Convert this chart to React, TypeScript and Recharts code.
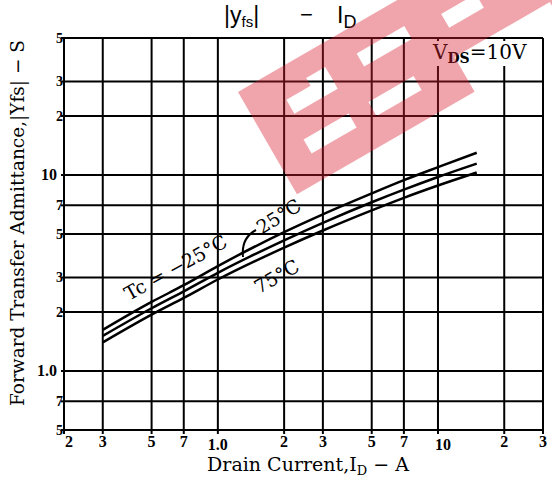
import { LineChart, Line, XAxis, YAxis, CartesianGrid } from 'recharts'

// Drain current I_D (A) where the curves were read
const drainCurrent = [0.3, 0.5, 0.7, 1.0, 2, 3, 5, 7, 10, 15]
// |Yfs| (S) per case temperature
const yfsMinus25 = [1.62, 2.25, 2.74, 3.43, 5.11, 6.3, 8.05, 9.41, 10.96, 12.98]
const yfs25 = [1.51, 2.09, 2.55, 3.17, 4.64, 5.7, 7.26, 8.42, 9.77, 11.43]
const yfs75 = [1.4, 1.94, 2.36, 2.93, 4.26, 5.21, 6.6, 7.65, 8.84, 10.3]

const xTicks = [0.2, 0.3, 0.5, 0.7, 1, 2, 3, 5, 7, 10, 20, 30]
const xTickLabels = ['2', '3', '5', '7', '1.0', '2', '3', '5', '7', '10', '2', '3']
const yTicks = [0.5, 0.7, 1, 2, 3, 5, 7, 10, 20, 30, 50]
const yTickLabels = ['5', '7', '1.0', '2', '3', '5', '7', '10', '2', '3', '5']

const data = drainCurrent.map((id, i) => ({
  id,
  tcMinus25: yfsMinus25[i],
  tc25: yfs25[i],
  tc75: yfs75[i],
}))

const SERIF = '"DejaVu Serif", "Liberation Serif", serif'
const TICK_FONT = '"Liberation Serif", serif'

interface TickProps {
  x?: number
  y?: number
  index?: number
}

function XTick({ x = 0, y = 0, index = 0 }: TickProps) {
  const label = xTickLabels[index]
  const wide = label.length > 1
  return (
    <text
      x={x + (label === '10' ? 5 : index === 0 ? 5 : 0)}
      y={y + (wide ? 14 : 11)}
      textAnchor="middle"
      fontFamily={TICK_FONT}
      fontWeight="bold"
      fontSize={16}
      fill="#000"
    >
      {label}
    </text>
  )
}

function YTick({ x = 0, y = 0, index = 0 }: TickProps) {
  const label = yTickLabels[index]
  const wide = label.length > 1
  return (
    <text
      x={wide ? x - 2 : x + 4}
      y={y + 5}
      textAnchor="end"
      fontFamily={TICK_FONT}
      fontWeight="bold"
      fontSize={wide ? 16 : 14}
      fill="#000"
    >
      {label}
    </text>
  )
}

// logo stamp laid over the scan (band rotated -30deg, with white gaps)
function Watermark() {
  const frame = 'translate(238 92) rotate(-30)'
  return (
    <svg
      width={552}
      height={483}
      style={{ position: 'absolute', left: 0, top: 0, pointerEvents: 'none' }}
    >
      <defs>
        <mask id="wm-holes" maskUnits="userSpaceOnUse" x={0} y={0} width={552} height={483}>
          <rect x={0} y={0} width={552} height={483} fill="#fff" />
          <g transform={frame} fill="#000">
            <rect x={38} y={31} width={50} height={16} />
            <rect x={66} y={22} width={22} height={20} />
            <rect x={33} y={74} width={52} height={16} />
            <rect x={122} y={26} width={55} height={15} />
            <rect x={108} y={74} width={52} height={16} />
            <rect x={215} y={34} width={40} height={16} />
            <rect x={205} y={78} width={110} height={50} />
          </g>
        </mask>
      </defs>
      <g mask="url(#wm-holes)">
        <rect
          x={0}
          y={0}
          width={460}
          height={118}
          transform={frame}
          fill="#d81e2c"
          opacity={0.4}
        />
      </g>
    </svg>
  )
}

export default function App() {
  return (
    <div
      style={{
        position: 'absolute',
        left: 0,
        top: 0,
        width: 552,
        height: 483,
        background: '#fff',
      }}
    >
      <LineChart
        width={552}
        height={483}
        data={data}
        margin={{ top: 38, right: 9, bottom: 23, left: 24 }}
      >
        <CartesianGrid stroke="#000" strokeWidth={2} />
        <XAxis
          dataKey="id"
          type="number"
          scale="log"
          domain={[0.2, 30]}
          ticks={xTicks}
          allowDataOverflow
          height={30}
          tick={<XTick />}
          tickLine={{ stroke: '#000', strokeWidth: 2 }}
          tickSize={4}
          axisLine={{ stroke: '#000', strokeWidth: 2 }}
          interval={0}
        />
        <YAxis
          type="number"
          scale="log"
          domain={[0.5, 50]}
          ticks={yTicks}
          allowDataOverflow
          width={40}
          tick={<YTick />}
          tickLine={{ stroke: '#000', strokeWidth: 2 }}
          tickSize={3}
          axisLine={{ stroke: '#000', strokeWidth: 2 }}
          interval={0}
        />
        <Line
          dataKey="tcMinus25"
          type="monotone"
          stroke="#000"
          strokeWidth={2.5}
          dot={false}
          isAnimationActive={false}
        />
        <Line
          dataKey="tc25"
          type="monotone"
          stroke="#000"
          strokeWidth={2.5}
          dot={false}
          isAnimationActive={false}
        />
        <Line
          dataKey="tc75"
          type="monotone"
          stroke="#000"
          strokeWidth={2.5}
          dot={false}
          isAnimationActive={false}
        />
      </LineChart>

      <svg
        width={552}
        height={483}
        style={{ position: 'absolute', left: 0, top: 0, pointerEvents: 'none' }}
      >
        {/* title */}
        <g fontFamily='"Liberation Sans", sans-serif' fill="#000">
          <text x={224} y={23} fontSize={23}>
            |y
            <tspan fontSize={15} dy={4}>fs</tspan>
            <tspan dy={-4}>|</tspan>
          </text>
          <text x={300} y={22} fontSize={22}>−</text>
          <text x={337} y={23} fontSize={23}>
            I<tspan fontSize={18} dy={5}>D</tspan>
          </text>
        </g>

        {/* VDS box */}
        <rect x={428} y={41} width={114} height={25} fill="#fff" />
        <text x={433} y={59} fontFamily={SERIF} fontSize={20} fill="#000">
          V
          <tspan fontSize={14} fontWeight="bold" dy={4}>DS</tspan>
          <tspan dy={-4}>=10V</tspan>
        </text>

        {/* curve labels */}
        <text
          x={176}
          y={274}
          textAnchor="middle"
          fontFamily={SERIF}
          fontSize={19}
          fill="#000"
          transform="rotate(-29 176 268)"
        >
          Tc = −25°C
        </text>
        <text
          x={279}
          y={223}
          textAnchor="middle"
          fontFamily={SERIF}
          fontSize={19}
          fill="#000"
          transform="rotate(-32 279 217)"
        >
          25°C
        </text>
        <text
          x={277}
          y={283}
          textAnchor="middle"
          fontFamily={SERIF}
          fontSize={19}
          fill="#000"
          transform="rotate(-30 277 277)"
        >
          75°C
        </text>
        <path d="M243 257 Q 241 238 256 230" fill="none" stroke="#000" strokeWidth={2} />

        {/* axis titles */}
        <text x={308} y={471} textAnchor="middle" fontFamily={SERIF} fontSize={19} fill="#000">
          Drain Current,I
          <tspan fontSize={13} dy={4}>D</tspan>
          <tspan dy={-4}> − A</tspan>
        </text>
        <text
          x={24}
          y={223}
          textAnchor="middle"
          fontFamily={SERIF}
          fontSize={18.5}
          fill="#000"
          transform="rotate(-90 24 223)"
        >
          Forward Transfer Admittance,|Yfs| − S
        </text>
      </svg>

      <Watermark />
    </div>
  )
}
